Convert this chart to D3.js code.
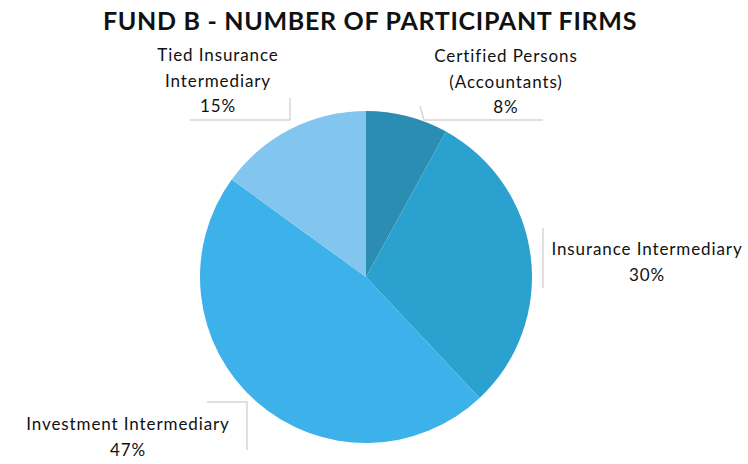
<!DOCTYPE html>
<html>
<head>
<meta charset="utf-8">
<script src="https://cdnjs.cloudflare.com/ajax/libs/d3/7.8.5/d3.min.js"></script>
<style>
  body { margin: 0; background: #fff; }
  text { font-family: Lato, "Open Sans", sans-serif; fill: #111; }
</style>
</head>
<body>
<div id="chart"></div>
<script>
var categories = ["Certified Persons (Accountants)", "Insurance Intermediary", "Investment Intermediary", "Tied Insurance Intermediary"]
var values = [8, 30, 47, 15]
var labelLines = [["Certified Persons", "(Accountants)", "8%"], ["Insurance Intermediary", "30%"], ["Investment Intermediary", "47%"], ["Tied Insurance", "Intermediary", "15%"]]
var colours = ["#2b8db1", "#2ba1cf", "#3db1ea", "#82c6ef"]

var width = 748, height = 464
var cx = 366, cy = 277, radius = 166

var svg = d3.select("#chart").append("svg")
    .attr("width", width)
    .attr("height", height)

svg.append("text")
    .attr("x", 370)
    .attr("y", 30)
    .attr("text-anchor", "middle")
    .style("font-size", "25px")
    .style("font-weight", "bold")
    .style("letter-spacing", "0.7px")
    .text("FUND B - NUMBER OF PARTICIPANT FIRMS")

var pie = d3.pie().sort(null).value(function(d) { return d })
var arc = d3.arc().innerRadius(0).outerRadius(radius)

var g = svg.append("g").attr("transform", "translate(" + cx + "," + cy + ")")

g.selectAll("path")
    .data(pie(values))
    .enter().append("path")
    .attr("d", arc)
    .style("fill", function(d, i) { return colours[i] })

// label anchors: centre x and first baseline
var labelPos = [[506, 62], [647, 255], [128, 430], [218, 61]]

// faint leader lines
var leaders = [
    [[420, 106], [424, 120], [543, 120]],
    [[543, 228], [543, 288]],
    [[207, 402], [247, 402], [247, 450]],
    [[190, 120], [290, 120], [290, 98]]
]
var line = d3.line()
svg.selectAll(".leader")
    .data(leaders)
    .enter().append("path")
    .attr("class", "leader")
    .attr("d", line)
    .style("fill", "none")
    .style("stroke", "#d6d6d6")
    .style("stroke-width", 1.5)

var labels = svg.selectAll(".label")
    .data(labelLines)
    .enter().append("text")
    .attr("class", "label")
    .attr("text-anchor", "middle")
    .style("font-size", "17px")
    .style("letter-spacing", "0.9px")
    .attr("transform", function(d, i) { return "translate(" + labelPos[i][0] + "," + labelPos[i][1] + ")" })

labels.selectAll("tspan")
    .data(function(d) { return d })
    .enter().append("tspan")
    .attr("x", 0)
    .attr("y", function(d, i) { return i * 25.5 })
    .text(function(d) { return d })
</script>
</body>
</html>
